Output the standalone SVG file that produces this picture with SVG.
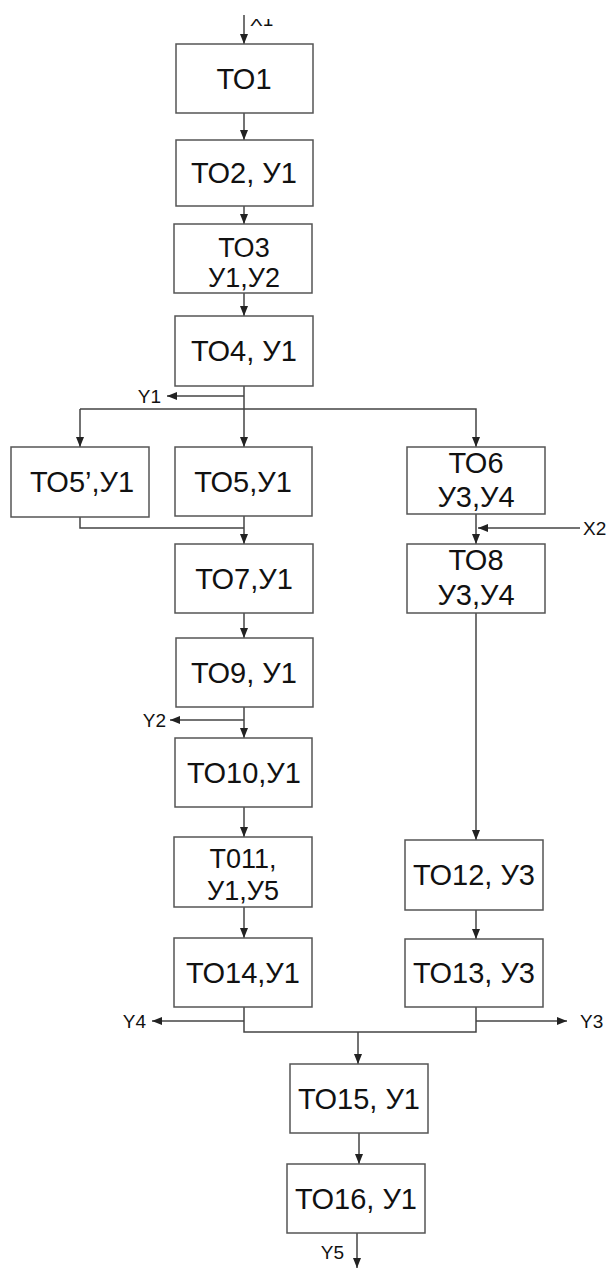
<svg xmlns="http://www.w3.org/2000/svg" width="609" height="1268" viewBox="0 0 609 1268">
<style>
.box{fill:#fff;stroke:#555;stroke-width:1.5}
.t{font-family:"Liberation Sans",Arial,sans-serif;font-size:29px;fill:#111;text-anchor:middle}
.t2{font-family:"Liberation Sans",Arial,sans-serif;font-size:27px;fill:#111;text-anchor:middle}
.lbl{font-family:"Liberation Sans",Arial,sans-serif;font-size:19px;fill:#111}
.ln{fill:none;stroke:#444;stroke-width:1.5}
</style>
<defs>
<marker id="ah" markerUnits="userSpaceOnUse" markerWidth="10" markerHeight="8" refX="10" refY="4" orient="auto">
<path d="M0,0 L10,4 L0,8 z" fill="#222"/>
</marker>
<clipPath id="topclip"><rect x="0" y="19" width="609" height="30"/></clipPath>
</defs>
<g id="connectors">
<line class="ln" x1="244" y1="15" x2="244" y2="44" marker-end="url(#ah)"/>
<line class="ln" x1="244" y1="113" x2="244" y2="140" marker-end="url(#ah)"/>
<line class="ln" x1="244" y1="206" x2="244" y2="224" marker-end="url(#ah)"/>
<line class="ln" x1="244" y1="293" x2="244" y2="316" marker-end="url(#ah)"/>
<line class="ln" x1="244" y1="386" x2="244" y2="447" marker-end="url(#ah)"/>
<line class="ln" x1="244" y1="396" x2="167" y2="396" marker-end="url(#ah)"/>
<polyline class="ln" points="80,409 476,409 476,447" marker-end="url(#ah)"/>
<line class="ln" x1="80" y1="409" x2="80" y2="447" marker-end="url(#ah)"/>
<polyline class="ln" points="80,517 80,528 244,528"/>
<line class="ln" x1="244" y1="516" x2="244" y2="544" marker-end="url(#ah)"/>
<line class="ln" x1="244" y1="613" x2="244" y2="638" marker-end="url(#ah)"/>
<line class="ln" x1="244" y1="707" x2="244" y2="738" marker-end="url(#ah)"/>
<line class="ln" x1="244" y1="720" x2="170" y2="720" marker-end="url(#ah)"/>
<line class="ln" x1="244" y1="807" x2="244" y2="837" marker-end="url(#ah)"/>
<line class="ln" x1="244" y1="907" x2="244" y2="938" marker-end="url(#ah)"/>
<line class="ln" x1="476" y1="514" x2="476" y2="544" marker-end="url(#ah)"/>
<line class="ln" x1="580" y1="528" x2="478" y2="528" marker-end="url(#ah)"/>
<line class="ln" x1="476" y1="613" x2="476" y2="840" marker-end="url(#ah)"/>
<line class="ln" x1="476" y1="910" x2="476" y2="939" marker-end="url(#ah)"/>
<polyline class="ln" points="244,1007 244,1032 476,1032 476,1007"/>
<line class="ln" x1="244" y1="1021" x2="152" y2="1021" marker-end="url(#ah)"/>
<line class="ln" x1="476" y1="1021" x2="567" y2="1021" marker-end="url(#ah)"/>
<line class="ln" x1="358" y1="1032" x2="358" y2="1064" marker-end="url(#ah)"/>
<line class="ln" x1="359" y1="1133" x2="359" y2="1164" marker-end="url(#ah)"/>
<line class="ln" x1="357" y1="1233" x2="357" y2="1268" marker-end="url(#ah)"/>
<text class="lbl" x="250" y="26" clip-path="url(#topclip)">X1</text>
<text class="lbl" x="161" y="403" text-anchor="end">Y1</text>
<text class="lbl" x="166" y="727" text-anchor="end">Y2</text>
<text class="lbl" x="583" y="535">X2</text>
<text class="lbl" x="146" y="1028" text-anchor="end">Y4</text>
<text class="lbl" x="580" y="1028">Y3</text>
<text class="lbl" x="344" y="1259" text-anchor="end">Y5</text>
</g>
<g id="TO1"><rect class="box" x="176" y="44" width="137" height="69"/><text class="t" x="244" y="89">ТО1</text></g>
<g id="TO2"><rect class="box" x="176" y="140" width="137" height="66"/><text class="t" x="244" y="183">ТО2, У1</text></g>
<g id="TO3"><rect class="box" x="174" y="224" width="138" height="69"/><text class="t2" x="244" y="257">ТО3</text><text class="t2" x="244" y="287">У1,У2</text></g>
<g id="TO4"><rect class="box" x="175" y="316" width="138" height="70"/><text class="t" x="244" y="361">ТО4, У1</text></g>
<g id="TO5p"><rect class="box" x="11" y="447" width="138" height="70"/><text class="t" x="82" y="492">ТО5’,У1</text></g>
<g id="TO5"><rect class="box" x="175" y="447" width="137" height="69"/><text class="t" x="243" y="492">ТО5,У1</text></g>
<g id="TO6"><rect class="box" x="407" y="447" width="138" height="67"/><text class="t" x="476" y="473">ТО6</text><text class="t" x="476" y="507">У3,У4</text></g>
<g id="TO7"><rect class="box" x="175" y="544" width="138" height="69"/><text class="t" x="244" y="589">ТО7,У1</text></g>
<g id="TO8"><rect class="box" x="407" y="544" width="138" height="69"/><text class="t" x="476" y="570">ТО8</text><text class="t" x="476" y="605">У3,У4</text></g>
<g id="TO9"><rect class="box" x="176" y="638" width="137" height="69"/><text class="t" x="244" y="683">ТО9, У1</text></g>
<g id="TO10"><rect class="box" x="175" y="738" width="137" height="69"/><text class="t" x="244" y="783">ТО10,У1</text></g>
<g id="TO11"><rect class="box" x="174" y="837" width="138" height="70"/><text class="t2" x="243" y="868">Т011,</text><text class="t2" x="243" y="900">У1,У5</text></g>
<g id="TO12"><rect class="box" x="405" y="840" width="138" height="70"/><text class="t" x="474" y="885">ТО12, У3</text></g>
<g id="TO13"><rect class="box" x="405" y="939" width="138" height="68"/><text class="t" x="474" y="983">ТО13, У3</text></g>
<g id="TO14"><rect class="box" x="174" y="938" width="138" height="69"/><text class="t" x="243" y="983">ТО14,У1</text></g>
<g id="TO15"><rect class="box" x="290" y="1064" width="138" height="69"/><text class="t" x="359" y="1109">ТО15, У1</text></g>
<g id="TO16"><rect class="box" x="287" y="1164" width="138" height="69"/><text class="t" x="356" y="1209">ТО16, У1</text></g>
</svg>
